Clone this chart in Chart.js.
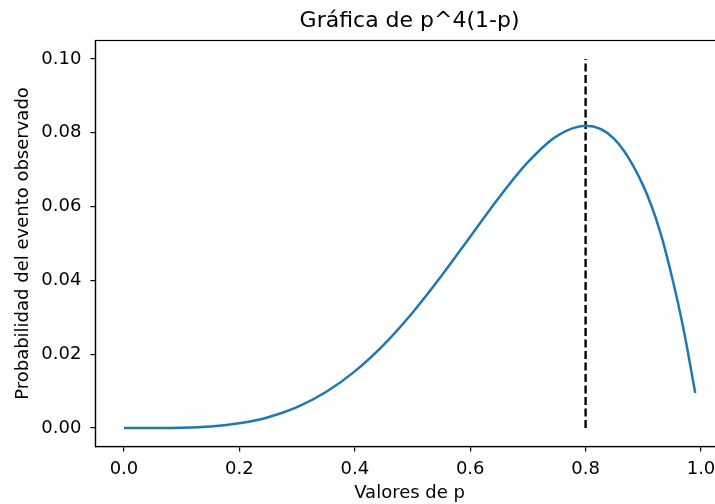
<!DOCTYPE html>
<html>
<head>
<meta charset="utf-8">
<script src="https://cdn.jsdelivr.net/npm/chart.js@4"></script>
<style>
  html, body { margin: 0; padding: 0; background: #fff; overflow: hidden; }
  #wrap { width: 715px; height: 504px; overflow: hidden; }
</style>
</head>
<body>
<div id="wrap"><canvas id="chart" width="730" height="504"></canvas></div>
<script>
// values
const pValues = [0, 0.05, 0.1, 0.15, 0.2, 0.25, 0.3, 0.35, 0.4, 0.45, 0.5, 0.55, 0.6, 0.65,
  0.7, 0.75, 0.8, 0.85, 0.9, 0.93, 0.95, 0.97, 0.99];
const probValues = [0, 0.00001, 0.00009, 0.00043, 0.00128, 0.00293, 0.00567, 0.00975, 0.01536,
  0.02255, 0.03125, 0.04117, 0.05184, 0.06247, 0.07203, 0.0791, 0.08192, 0.0783, 0.06561,
  0.05277, 0.04073, 0.02658, 0.00951];
const maxP = 0.8;
const vlineRange = [0, 0.1];
const xTicks = [0, 0.2, 0.4, 0.6, 0.8, 1.0];
const yTicks = [0, 0.02, 0.04, 0.06, 0.08, 0.10];

const font = 'DejaVu Sans';

//It draws the frame around the plot area (top and left/bottom spines)
const frame = {
  id: 'frame',
  afterDraw(chart) {
    const a = chart.chartArea;
    const c = chart.ctx;
    c.save();
    c.strokeStyle = '#000';
    c.lineWidth = 1.2;
    c.strokeRect(a.left, a.top, a.right - a.left, a.bottom - a.top);
    c.restore();
  }
};

let ctx = document.getElementById('chart').getContext('2d');

new Chart(ctx, {
  type: 'line',
  data: {
    datasets: [{
      data: pValues.map((p, i) => ({ x: p, y: probValues[i] })),
      borderColor: '#1f77b4',
      borderWidth: 2.5,
      pointRadius: 0,
      cubicInterpolationMode: 'monotone',
      fill: false
    }, {
      data: vlineRange.map(v => ({ x: maxP, y: v })),
      borderColor: '#000',
      borderWidth: 2.4,
      borderDash: [8, 3.5],
      pointRadius: 0,
      fill: false
    }]
  },
  options: {
    responsive: false,
    animation: false,
    layout: { padding: { left: 0, right: 6.2, top: 0, bottom: 0 } },
    plugins: {
      legend: { display: false },
      tooltip: { enabled: false },
      title: {
        display: true,
        fullSize: false,
        text: 'Gráfica de p^4(1-p)',
        color: '#000',
        font: { family: font, size: 22, weight: 'normal' },
        padding: { top: 7.8, bottom: 6.3 }
      }
    },
    scales: {
      x: {
        type: 'linear',
        min: -0.0495,
        max: 1.0395,
        afterBuildTicks: s => { s.ticks = xTicks.map(v => ({ value: v })); },
        afterFit: s => { s.height = 57.5; },
        grid: { drawOnChartArea: false, drawTicks: true, tickLength: 5, color: '#000', lineWidth: 1.2 },
        border: { display: true, color: '#000', width: 1.2 },
        ticks: {
          color: '#000',
          padding: 7,
          maxRotation: 0,
          font: { family: font, size: 18 },
          callback: v => v.toFixed(1)
        },
        title: {
          display: true,
          text: 'Valores de p',
          color: '#000',
          font: { family: font, size: 18 },
          padding: { top: 2, bottom: 0 }
        }
      },
      y: {
        type: 'linear',
        min: -0.005,
        max: 0.105,
        afterBuildTicks: s => { s.ticks = yTicks.map(v => ({ value: v })); },
        afterFit: s => { s.width = 95.4; },
        grid: { drawOnChartArea: false, drawTicks: true, tickLength: 5, color: '#000', lineWidth: 1.2 },
        border: { display: true, color: '#000', width: 1.2 },
        ticks: {
          color: '#000',
          padding: 9,
          font: { family: font, size: 18 },
          callback: v => v.toFixed(2)
        },
        title: {
          display: true,
          text: 'Probabilidad del evento observado',
          color: '#000',
          font: { family: font, size: 18 },
          padding: { top: 13, bottom: 0 }
        }
      }
    }
  },
  plugins: [frame]
});
</script>
</body>
</html>
